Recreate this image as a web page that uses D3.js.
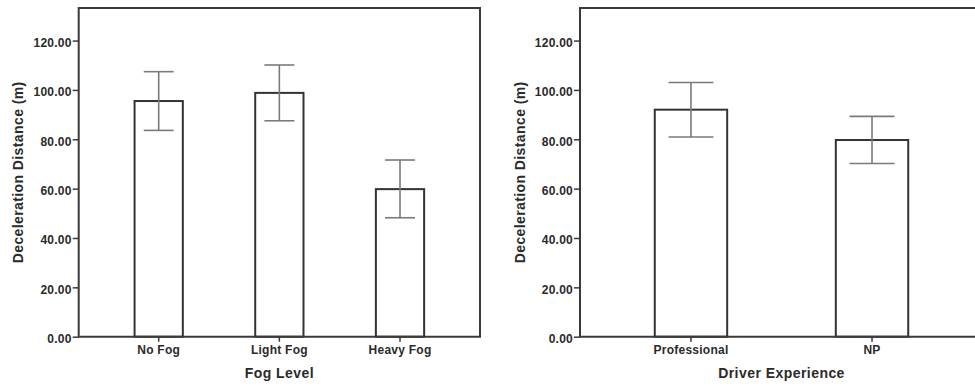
<!DOCTYPE html>
<html>
<head>
<meta charset="utf-8">
<script src="https://cdn.jsdelivr.net/npm/d3@7/dist/d3.min.js"></script>
<style>
  html, body { margin: 0; padding: 0; background: #fff; }
  svg { display: block; }
  text { font-family: "Liberation Sans", Arial, sans-serif; font-weight: bold; fill: #2a2a2a; }
</style>
</head>
<body>
<svg id="chart" width="975" height="390"></svg>
<script>
// Mean deceleration distance by fog level (with error bars)
const fogLevels = ["No Fog", "Light Fog", "Heavy Fog"];
const fogMeans  = [95.5, 98.8, 59.8];
const fogLower  = [83.6, 87.5, 48.2];
const fogUpper  = [107.4, 110.1, 71.6];

// Mean deceleration distance by driver experience
const experience = ["Professional", "NP"];
const expMeans   = [92.0, 79.7];
const expLower   = [80.9, 70.2];
const expUpper   = [103.0, 89.3];

const yTicks = [0, 20, 40, 60, 80, 100, 120];
const yMax = 133.2;

const svg = d3.select("#chart");

function drawPanel(opts) {
  const { categories, means, lower, upper, left, right, top, bottom,
          paddingOuter, xTitle, yTitleX } = opts;
  const g = svg.append("g");

  const x = d3.scaleBand()
    .domain(categories)
    .range([left, right])
    .paddingInner(0.6)
    .paddingOuter(paddingOuter);

  const y = d3.scaleLinear().domain([0, yMax]).range([bottom, top]);

  const rows = categories.map((c, i) => ({ c, m: means[i], lo: lower[i], hi: upper[i] }));

  // bars
  g.selectAll("rect.bar").data(rows).join("rect")
    .attr("class", "bar")
    .attr("x", d => x(d.c))
    .attr("y", d => y(d.m))
    .attr("width", x.bandwidth())
    .attr("height", d => y(0) - y(d.m))
    .attr("fill", "#fff")
    .attr("stroke", "#333")
    .attr("stroke-width", 2);

  // error bars
  const capHalf = x.bandwidth() * 0.31;
  const eb = g.selectAll("g.err").data(rows).join("g").attr("class", "err")
    .attr("stroke", "#7a7a7a").attr("stroke-width", 1.6).attr("fill", "none");
  eb.append("line")
    .attr("x1", d => x(d.c) + x.bandwidth() / 2).attr("x2", d => x(d.c) + x.bandwidth() / 2)
    .attr("y1", d => y(d.hi)).attr("y2", d => y(d.lo));
  eb.append("line")
    .attr("x1", d => x(d.c) + x.bandwidth() / 2 - capHalf).attr("x2", d => x(d.c) + x.bandwidth() / 2 + capHalf)
    .attr("y1", d => y(d.hi)).attr("y2", d => y(d.hi));
  eb.append("line")
    .attr("x1", d => x(d.c) + x.bandwidth() / 2 - capHalf).attr("x2", d => x(d.c) + x.bandwidth() / 2 + capHalf)
    .attr("y1", d => y(d.lo)).attr("y2", d => y(d.lo));

  // frame
  g.append("path")
    .attr("d", `M${left},${bottom}V${top}H${right}V${bottom}Z`)
    .attr("fill", "none")
    .attr("stroke", "#3a3a3a")
    .attr("stroke-width", 2);

  // y axis
  const yAxis = g.append("g")
    .attr("transform", `translate(${left},0)`)
    .call(d3.axisLeft(y).tickValues(yTicks).tickFormat(d3.format(".2f")).tickSize(6).tickPadding(1));
  yAxis.select(".domain").remove();
  yAxis.selectAll(".tick line").attr("stroke", "#3a3a3a").attr("stroke-width", 1.5);
  yAxis.selectAll(".tick text")
    .attr("dy", "0.5em")
    .style("font-family", "'Liberation Sans', Arial, sans-serif")
    .style("font-weight", "bold")
    .style("font-size", "12px")
    .style("letter-spacing", "0.25px")
    .attr("fill", "#2a2a2a");

  // x axis
  const xAxis = g.append("g")
    .attr("transform", `translate(0,${bottom})`)
    .call(d3.axisBottom(x).tickSize(5).tickPadding(4));
  xAxis.select(".domain").remove();
  xAxis.selectAll(".tick line").attr("stroke", "#3a3a3a").attr("stroke-width", 1.5);
  xAxis.selectAll(".tick text")
    .attr("dy", "0.71em")
    .style("font-family", "'Liberation Sans', Arial, sans-serif")
    .style("font-weight", "bold")
    .style("font-size", "12px")
    .style("letter-spacing", "0.25px")
    .attr("fill", "#2a2a2a");

  // axis titles
  g.append("text")
    .attr("x", (left + right) / 2)
    .attr("y", 377.5)
    .attr("text-anchor", "middle")
    .style("font-size", "14px")
    .style("letter-spacing", "0.45px")
    .text(xTitle);

  g.append("text")
    .attr("transform", `translate(${yTitleX},${(top + bottom) / 2}) rotate(-90)`)
    .attr("text-anchor", "middle")
    .style("font-size", "14px")
    .style("letter-spacing", "0.4px")
    .text("Deceleration Distance (m)");
}

drawPanel({
  categories: fogLevels, means: fogMeans, lower: fogLower, upper: fogUpper,
  left: 78.7, right: 480, top: 8, bottom: 336.7, paddingOuter: 0.463,
  xTitle: "Fog Level", yTitleX: 22.5
});

drawPanel({
  categories: experience, means: expMeans, lower: expLower, upper: expUpper,
  left: 580, right: 983, top: 8, bottom: 336.7, paddingOuter: 0.413,
  xTitle: "Driver Experience", yTitleX: 525
});
</script>
</body>
</html>
